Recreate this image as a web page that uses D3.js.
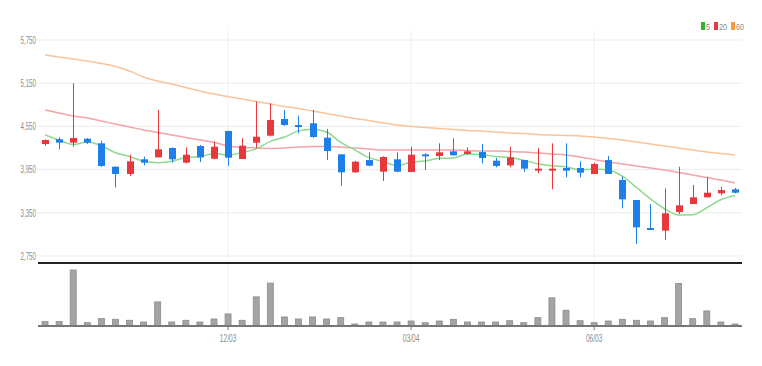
<!DOCTYPE html>
<html><head><meta charset="utf-8">
<script src="https://cdn.jsdelivr.net/npm/d3@7"></script>
<style>
html,body{margin:0;padding:0;background:#fff;}
svg text{font-family:"Liberation Sans","Arial",sans-serif;}
</style></head>
<body><svg id="c" width="762" height="366"></svg>
<script>
const dates = ["09/03","09/10","09/17","09/24","10/01","10/08","10/15","10/22","10/29","11/05","11/12","11/19","11/26","12/03","12/10","12/17","12/24","12/31","01/07","01/14","01/21","01/28","02/04","02/11","02/18","02/25","03/04","03/11","03/18","03/25","04/01","04/08","04/15","04/22","04/29","05/06","05/13","05/20","05/27","06/03","06/10","06/17","06/24","07/01","07/08","07/15","07/22","07/29","08/05","08/12"];
const opens = [4305,4371,4324,4379,4315,3990,3889,4093,4120,4250,4046,4278,4101,4486,4097,4324,4421,4653,4569,4593,4393,4162,3912,4083,3921,4093,3917,4162,4139,4204,4167,4194,4074,4009,4083,3935,3945,3972,3972,3889,4083,3806,3528,3139,3102,3361,3472,3565,3620,3676];
const highs = [4371,4399,5149,4389,4351,3995,4157,4129,4778,4260,4260,4290,4343,4490,4385,4893,4871,4778,4699,4778,4514,4162,4070,4190,4135,4190,4268,4176,4315,4385,4260,4306,4111,4268,4083,4250,4315,4315,4065,4046,4139,3851,3528,3472,3690,3990,3736,3851,3713,3694];
const lows = [4282,4232,4268,4305,3990,3704,3861,4009,4120,4046,4037,4055,4093,4004,4097,4246,4410,4560,4454,4393,4083,3727,3905,3995,3792,3912,3917,3945,4083,4148,4157,4037,3982,3982,3917,3898,3676,3843,3843,3889,3889,3412,2917,3111,2972,3333,3472,3565,3593,3620];
const closes = [4361,4324,4389,4324,4000,3889,4065,4046,4232,4093,4157,4120,4268,4115,4282,4407,4639,4569,4542,4403,4208,3912,4060,4004,4125,3921,4157,4139,4190,4148,4204,4111,4000,4120,3963,3963,3963,3935,3907,4028,3889,3537,3148,3111,3343,3454,3565,3629,3666,3629];
const volumes = [34000,34000,547000,23000,64000,57000,47000,30000,230000,30000,47000,30000,60000,110000,47000,280000,417000,80000,60000,80000,60000,73000,10000,30000,30000,30000,40000,23000,40000,57000,30000,30000,30000,43000,23000,73000,270000,147000,43000,23000,40000,57000,47000,40000,73000,413000,63000,140000,30000,10000];
const ma5 = [4431,4361,4299,4333,4280,4185,4133,4065,4046,4065,4119,4130,4174,4151,4188,4238,4342,4402,4488,4512,4472,4327,4225,4117,4062,4004,4053,4069,4106,4111,4168,4158,4131,4117,4080,4031,4002,3989,3946,3959,3944,3859,3702,3543,3406,3319,3324,3420,3531,3589];
const ma20 = [4778,4736,4694,4667,4625,4583,4542,4500,4465,4431,4396,4361,4326,4278,4257,4250,4243,4250,4264,4271,4271,4264,4250,4236,4222,4222,4222,4222,4222,4222,4215,4208,4208,4201,4194,4181,4167,4153,4125,4090,4056,4028,4000,3972,3944,3910,3875,3840,3806,3764];
const ma60 = [5542,5514,5486,5458,5424,5382,5319,5236,5180,5139,5090,5042,5000,4965,4930,4896,4861,4826,4799,4764,4729,4694,4660,4632,4597,4569,4549,4535,4521,4507,4493,4486,4472,4458,4451,4437,4430,4424,4417,4403,4382,4361,4333,4306,4278,4250,4222,4194,4174,4153];
const priceTicks = [2750,3350,3950,4550,5150,5750];
const tickLabels = ["12/03","03/04","06/03"];
const legendNames = ["5","20","60"];
const legendColors = ["#33b233","#e8383d","#f7993a"];
const maColors = ["#8fd98f","#f5a3a6","#f8c49c"];

const svg = d3.select("#c");
const L = 38, R = 742;
const x = d3.scaleBand().domain(dates).range([L, R]).paddingInner(0.5).paddingOuter(0.25);
const cx = d => x(d) + x.bandwidth()/2;
const y = d3.scaleLinear().domain([2750, 5750]).range([256, 40]);
const yv = d3.scaleLinear().domain([0, d3.max(volumes)]).range([326, 271]);

// grid
const g = svg.append("g");
g.selectAll("line.h").data(priceTicks).join("line")
  .attr("x1", L).attr("x2", R).attr("y1", d => y(d)).attr("y2", d => y(d))
  .attr("stroke", "#ececec").attr("stroke-width", 1);
g.selectAll("line.v").data(tickLabels).join("line")
  .attr("x1", d => cx(d)).attr("x2", d => cx(d)).attr("y1", 30).attr("y2", 326)
  .attr("stroke", "#f0f0f0").attr("stroke-width", 1);

// y axis labels
const yAxis = d3.axisLeft(y).tickValues(priceTicks).tickFormat(d3.format(",")).tickSize(0).tickPadding(2);
const ya = svg.append("g").attr("transform", `translate(${L},0)`).call(yAxis);
ya.select(".domain").remove();
ya.selectAll("text").attr("fill", "#8c8c8c").attr("font-size", 10).attr("font-family", null)
  .attr("textLength", 15.5).attr("lengthAdjust", "spacingAndGlyphs");

// MA lines
const idx = d3.range(dates.length);
const mkLine = arr => d3.line().x(i => cx(dates[i])).y(i => y(arr[i])).curve(d3.curveMonotoneX)(idx);
[ma60, ma20, ma5].forEach((arr, k) => {
  svg.append("path").attr("d", mkLine(arr)).attr("fill", "none")
    .attr("stroke", [maColors[2], maColors[1], maColors[0]][k]).attr("stroke-width", 1.5);
});

// candles
const up = "#e8383d", dn = "#1e7fe8";
const cg = svg.append("g");
idx.forEach(i => {
  const col = closes[i] >= opens[i] ? up : dn;
  const xc = Math.round(cx(dates[i])) + 0.5;
  cg.append("line").attr("x1", xc).attr("x2", xc).attr("y1", y(highs[i])).attr("y2", y(lows[i]))
    .attr("stroke", col).attr("stroke-width", 1);
  const t = y(Math.max(opens[i], closes[i])), b = y(Math.min(opens[i], closes[i]));
  cg.append("rect").attr("x", xc - 3.5).attr("width", 7).attr("y", t).attr("height", Math.max(2, b - t))
    .attr("fill", col);
});

// separator
svg.append("line").attr("x1", L).attr("x2", R).attr("y1", 263).attr("y2", 263)
  .attr("stroke", "#222").attr("stroke-width", 2);

// volume bars
svg.append("g").selectAll("rect").data(idx).join("rect")
  .attr("x", i => cx(dates[i]) - 3).attr("width", 6)
  .attr("y", i => yv(volumes[i]) - 1).attr("height", i => 326 - yv(volumes[i]) + 1)
  .attr("fill", "#a4a4a4").attr("stroke", "#8c8c8c").attr("stroke-width", 0.8);

// x axis
const xAxis = d3.axisBottom(x).tickValues(tickLabels).tickSize(4).tickPadding(5);
const xa = svg.append("g").attr("transform", "translate(0,326)").call(xAxis);
xa.select(".domain").attr("stroke", "#777").attr("stroke-width", 2).attr("d", `M${L},0H${R}`);
xa.selectAll(".tick line").attr("stroke", "#777");
xa.selectAll("text").attr("fill", "#8c8c8c").attr("font-size", 10).attr("font-family", null)
  .attr("textLength", 16.5).attr("lengthAdjust", "spacingAndGlyphs");

// legend
const lg = svg.append("g");
const lx = [701, 714, 731];
const lw = [4, 8, 8];
legendNames.forEach((n, k) => {
  lg.append("rect").attr("x", lx[k]).attr("y", 22).attr("width", 4).attr("height", 8).attr("fill", legendColors[k]);
  lg.append("text").attr("x", lx[k] + 5).attr("y", 29.5).attr("font-size", 9).attr("fill", "#888")
    .attr("textLength", lw[k]).attr("lengthAdjust", "spacingAndGlyphs").text(n);
});
</script></body></html>
